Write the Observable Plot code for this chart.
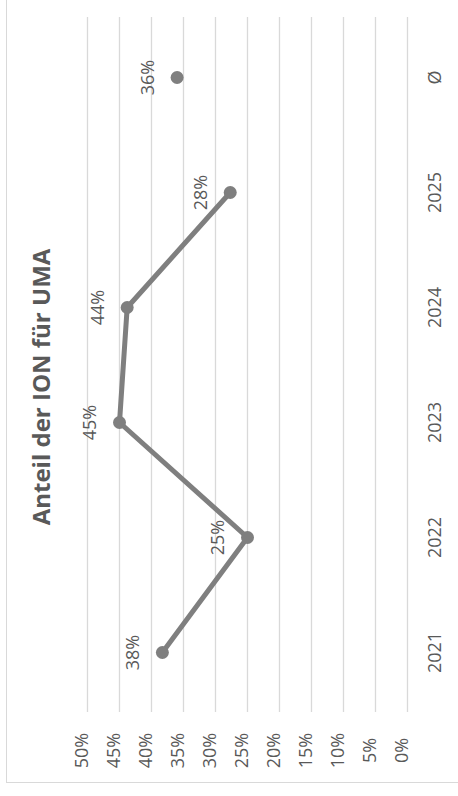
<!DOCTYPE html>
<html>
<head>
<meta charset="utf-8">
<script src="https://cdn.jsdelivr.net/npm/d3@7"></script>
<script src="https://cdn.jsdelivr.net/npm/@observablehq/plot@0.6"></script>
<style>
  html, body { margin: 0; padding: 0; background: #fff; }
  #wrap { position: relative; width: 458px; height: 796px; overflow: hidden; }
  #border { position: absolute; left: 6px; top: 0; width: 460px; height: 782px;
            border-left: 1.5px solid #d9d9d9; border-bottom: 1.5px solid #d9d9d9; box-sizing: content-box; }
  #chart { position: absolute; left: 0; top: 0; }
</style>
</head>
<body>
<div id="wrap"><div id="border"></div><div id="chart"></div></div>
<script>
const title = "Anteil der ION für UMA";
const categories = ["2021", "2022", "2023", "2024", "2025", "Ø"];
const years = ["2021", "2022", "2023", "2024", "2025"];
const yearValues = [0.383, 0.250, 0.450, 0.438, 0.277];
const averageLabel = "Ø";
const averageValue = 0.360;
const valueTicks = [0, 0.05, 0.10, 0.15, 0.20, 0.25, 0.30, 0.35, 0.40, 0.45, 0.50];

const series = years.map((c, i) => ({cat: c, v: yearValues[i]}));
const avg = [{cat: averageLabel, v: averageValue}];
const allPts = series.concat(avg);
const pct = d3.format(".0%");

const textColor = "#595959";
const lineColor = "#7f7f7f";
const font = "'Open Sans', sans-serif";

const chart = Plot.plot({
  width: 458,
  height: 796,
  marginLeft: 87,
  marginRight: 51,
  marginTop: 17,
  marginBottom: 84,
  style: {fontFamily: font, background: "transparent"},
  x: {domain: [0, 0.5], reverse: true, axis: null},
  y: {type: "point", domain: categories.slice().reverse(), padding: 0.5, axis: null},
  marks: [
    Plot.ruleX(valueTicks, {stroke: "#d9d9d9", strokeWidth: 1.3}),
    Plot.text(valueTicks, {x: d => d, text: d => pct(d), frameAnchor: "bottom", dy: 38,
      rotate: -90, fill: textColor, fontSize: 18, textAnchor: "middle"}),
    Plot.text(categories, {y: d => d, text: d => d, frameAnchor: "right", dx: 28,
      rotate: -90, fill: textColor, fontSize: 18, textAnchor: "middle"}),
    Plot.line(series, {x: "v", y: "cat", stroke: lineColor, strokeWidth: 5, strokeLinejoin: "round"}),
    Plot.dot(allPts, {x: "v", y: "cat", r: 6.5, fill: lineColor}),
    Plot.text(allPts, {x: "v", y: "cat", text: d => pct(d.v), dx: -29, rotate: -90,
      fill: textColor, fontSize: 18, textAnchor: "middle"}),
    Plot.text([title], {text: d => d, frameAnchor: "left", dx: -45, dy: 22, rotate: -90,
      fill: textColor, fontSize: 24, fontWeight: "bold", textAnchor: "middle"})
  ]
});
document.getElementById("chart").appendChild(chart);
</script>
</body>
</html>
